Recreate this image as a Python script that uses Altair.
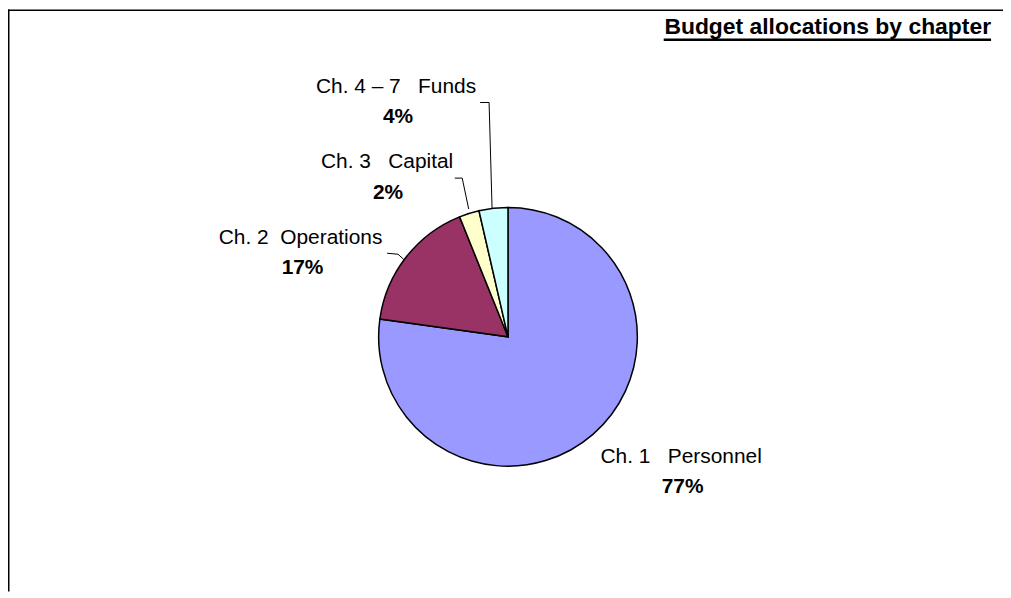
import altair as alt
import pandas as pd

# ---- data ----
categories = ["Ch. 1\u00a0\u00a0\u00a0Personnel", "Ch. 2\u00a0\u00a0Operations",
              "Ch. 3\u00a0\u00a0\u00a0Capital", "Ch. 4 \u2013 7\u00a0\u00a0\u00a0Funds"]
shares = [77.2, 16.7, 2.5, 3.6]
pct_labels = ["77%", "17%", "2%", "4%"]
title_text = "Budget allocations by chapter"

# ---- styling / layout (page pixel coordinates) ----
colors = ["#9999FF", "#993366", "#FFFFCC", "#CCFFFF"]
OX, OY = 8, 8                      # view origin on the page
W, H = 1000, 585
CENTER = (510.5, 337)
RADIUS = 130
FONT = "Liberation Sans"
name_pos = [(684.5, 464), (302, 244), (389, 167), (398, 92)]
pct_pos = [(686, 494), (304, 274), (390, 198), (400, 122)]
leaders = {
    1: [(389, 253), (400, 254), (406, 259.5)],
    2: [(457, 177.5), (464.5, 177.5), (471, 208.5)],
    3: [(482.5, 101.5), (491.5, 101.5), (494.5, 208)],
}

df = pd.DataFrame({
    "cat": categories,
    "share": shares,
    "pct": pct_labels,
    "idx": list(range(len(categories))),
    "nx": [p[0] - OX for p in name_pos],
    "ny": [p[1] - OY for p in name_pos],
    "px": [p[0] - OX for p in pct_pos],
    "py": [p[1] - OY for p in pct_pos],
})

lead_rows = []
for i, pts in leaders.items():
    for k, (x, y) in enumerate(pts):
        lead_rows.append({"seg": i, "pt": k, "x": x - OX, "y": y - OY})
lead_df = pd.DataFrame(lead_rows)

color_scale = alt.Scale(domain=categories, range=colors)

pie = alt.Chart(df).mark_arc(
    radius=RADIUS, x=CENTER[0] - OX, y=CENTER[1] - OY,
    stroke="black", strokeWidth=1.5
).encode(
    theta=alt.Theta("share:Q", stack=True),
    color=alt.Color("cat:N", scale=color_scale, legend=None),
    order=alt.Order("idx:Q"),
)

names = alt.Chart(df).mark_text(
    font=FONT, fontSize=21, align="center", baseline="alphabetic", color="black"
).encode(
    x=alt.X("nx:Q", scale=None, axis=None),
    y=alt.Y("ny:Q", scale=None, axis=None),
    text="cat:N",
)

pcts = alt.Chart(df).mark_text(
    font=FONT, fontSize=21, fontWeight="bold", align="center",
    baseline="alphabetic", color="black"
).encode(
    x=alt.X("px:Q", scale=None, axis=None),
    y=alt.Y("py:Q", scale=None, axis=None),
    text="pct:N",
)

lines = alt.Chart(lead_df).mark_line(color="black", strokeWidth=1).encode(
    x=alt.X("x:Q", scale=None, axis=None),
    y=alt.Y("y:Q", scale=None, axis=None),
    detail="seg:N",
    order="pt:Q",
)

title_df = pd.DataFrame({"t": [title_text]})
title = alt.Chart(title_df).mark_text(
    font=FONT, fontSize=23, fontWeight="bold", align="right",
    baseline="alphabetic", color="black"
).encode(
    x=alt.value(996 - OX), y=alt.value(33 - OY), text="t:N"
)
underline = alt.Chart(title_df).mark_rule(color="black", strokeWidth=2.5).encode(
    x=alt.value(667 - OX), x2=alt.value(996 - OX), y=alt.value(38.5 - OY)
)

frame_left = alt.Chart(title_df).mark_rule(color="black", strokeWidth=1.5).encode(
    x=alt.value(0.75), y=alt.value(0), y2=alt.value(H)
)
frame_top = alt.Chart(title_df).mark_rule(color="black", strokeWidth=1.5).encode(
    y=alt.value(0.75), x=alt.value(0), x2=alt.value(W)
)

chart = alt.layer(
    pie, lines, names, pcts, title, underline, frame_left, frame_top
).properties(
    width=W, height=H, padding=0, autosize=alt.AutoSizeParams(type="none"),
    background="white"
).configure_view(stroke=None)

chart.save("out.html", embed_options={"renderer": "svg", "actions": False})
